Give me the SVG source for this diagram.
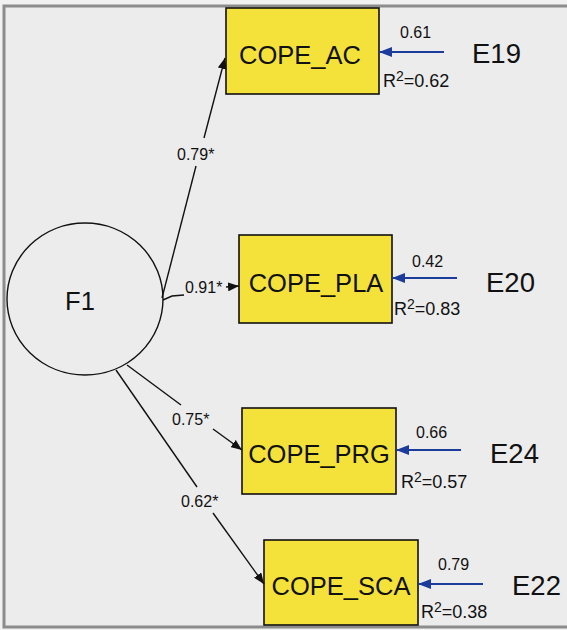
<svg xmlns="http://www.w3.org/2000/svg" width="567" height="630" viewBox="0 0 567 630">
<defs>
<marker id="ah" markerUnits="userSpaceOnUse" markerWidth="12" markerHeight="9" refX="11" refY="4.5" orient="auto"><path d="M0,0 L11,4.5 L0,9 z" fill="#111"/></marker>
<marker id="ahb" markerUnits="userSpaceOnUse" markerWidth="14" markerHeight="10" refX="13" refY="5" orient="auto"><path d="M0,0 L13,5 L0,10 z" fill="#1c3c9c"/></marker>
</defs>
<style>
.box{fill:#f4e23a;stroke:#111;stroke-width:1.6}
.nt{font-family:"Liberation Sans",Arial,sans-serif;font-size:25.5px;fill:#111;text-anchor:middle}
.et{font-family:"Liberation Sans",Arial,sans-serif;font-size:27.5px;fill:#111}
.sm{font-family:"Liberation Sans",Arial,sans-serif;font-size:16px;fill:#111}
.r2{font-family:"Liberation Sans",Arial,sans-serif;font-size:18px;fill:#111}
.ln{stroke:#111;stroke-width:1.4;fill:none}
.bl{stroke:#1c3c9c;stroke-width:2;fill:none}
</style>
<rect x="0" y="0" width="567" height="630" fill="#f1f1f1"/>
<rect x="4" y="6" width="570" height="621" fill="#ececec" stroke="#8c8c8c" stroke-width="3"/>

<g id="F1">
<ellipse cx="85" cy="299" rx="78" ry="76" fill="none" stroke="#111" stroke-width="1.4"/>
<text class="nt" x="80" y="310">F1</text>
</g>

<g id="COPE_AC">
<rect class="box" x="226" y="8" width="153" height="86"/>
<text class="nt" x="300" y="64">COPE_AC</text>
</g>
<g id="COPE_PLA">
<rect class="box" x="239" y="235" width="153" height="88"/>
<text class="nt" x="316" y="292">COPE_PLA</text>
</g>
<g id="COPE_PRG">
<rect class="box" x="242" y="408" width="154" height="86"/>
<text class="nt" x="319" y="463">COPE_PRG</text>
</g>
<g id="COPE_SCA">
<rect class="box" x="264" y="540" width="154" height="85"/>
<text class="nt" x="341" y="595">COPE_SCA</text>
</g>

<g id="E19"><text class="et" x="472" y="63">E19</text></g>
<g id="E20"><text class="et" x="486" y="292">E20</text></g>
<g id="E24"><text class="et" x="490" y="463">E24</text></g>
<g id="E22"><text class="et" x="512" y="595">E22</text></g>

<g id="connectors">
<!-- F1 -> COPE_AC -->
<line class="ln" x1="162" y1="298" x2="196" y2="166"/>
<line class="ln" x1="204" y1="138" x2="225" y2="58" marker-end="url(#ah)"/>
<text class="sm" x="177" y="160">0.79*</text>
<!-- F1 -> COPE_PLA -->
<polyline class="ln" points="163,300 172,296 184,295"/>
<line class="ln" x1="226" y1="287" x2="239" y2="286" marker-end="url(#ah)"/>
<text class="sm" x="185" y="293">0.91*</text>
<!-- F1 -> COPE_PRG -->
<line class="ln" x1="127" y1="365" x2="181" y2="405"/>
<line class="ln" x1="213" y1="429" x2="242" y2="450" marker-end="url(#ah)"/>
<text class="sm" x="172" y="425">0.75*</text>
<!-- F1 -> COPE_SCA -->
<line class="ln" x1="116" y1="370" x2="197" y2="487"/>
<line class="ln" x1="213" y1="513" x2="264" y2="584" marker-end="url(#ah)"/>
<text class="sm" x="181" y="507">0.62*</text>

<!-- error arrows -->
<line class="bl" x1="444" y1="52" x2="379" y2="52" marker-end="url(#ahb)"/>
<text class="sm" x="400" y="38">0.61</text>
<text class="r2" x="383" y="87">R<tspan font-size="14" dy="-6">2</tspan><tspan dy="6">=0.62</tspan></text>

<line class="bl" x1="457" y1="278" x2="392" y2="278" marker-end="url(#ahb)"/>
<text class="sm" x="412" y="267">0.42</text>
<text class="r2" x="394" y="315">R<tspan font-size="14" dy="-6">2</tspan><tspan dy="6">=0.83</tspan></text>

<line class="bl" x1="461" y1="450" x2="396" y2="450" marker-end="url(#ahb)"/>
<text class="sm" x="416" y="438">0.66</text>
<text class="r2" x="401" y="488">R<tspan font-size="14" dy="-6">2</tspan><tspan dy="6">=0.57</tspan></text>

<line class="bl" x1="483" y1="584" x2="418" y2="584" marker-end="url(#ahb)"/>
<text class="sm" x="438" y="570">0.79</text>
<text class="r2" x="421" y="618">R<tspan font-size="14" dy="-6">2</tspan><tspan dy="6">=0.38</tspan></text>
</g>
</svg>
